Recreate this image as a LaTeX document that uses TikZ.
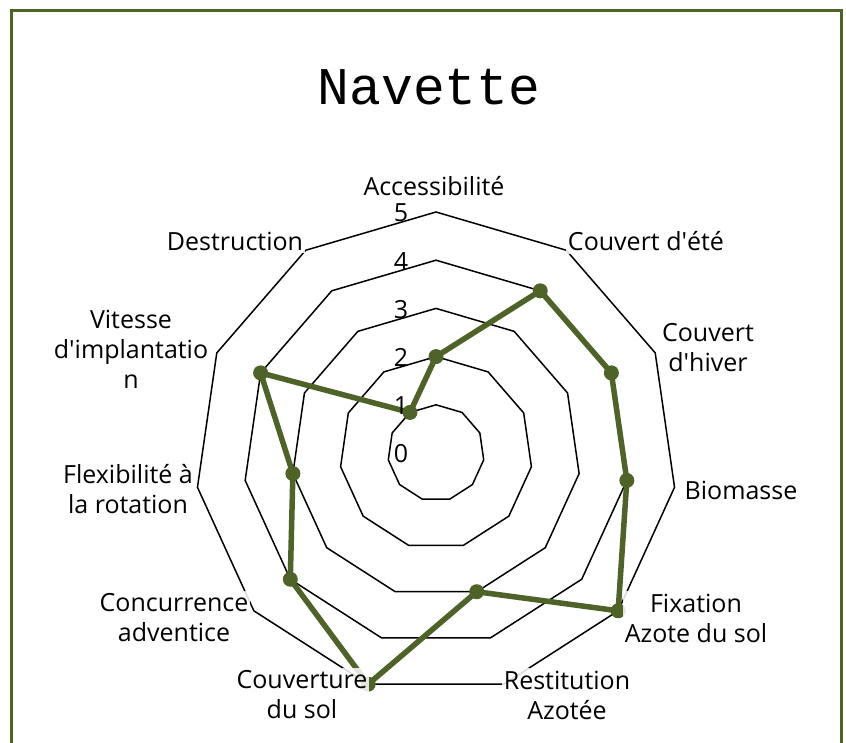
\documentclass[tikz,border=0pt]{standalone}
\usepackage{fontspec}
\setmainfont{Open Sans}
\newfontfamily\titlefont{Liberation Mono}
\definecolor{oliveline}{HTML}{4F6228}
\newcommand{\ap}{\textquotesingle}
\begin{document}
\begin{tikzpicture}[x=1pt,y=1pt,
  lbl/.style={font=\fontsize{25}{30}\selectfont, align=center, fill=white, fill opacity=0.85, text opacity=1, inner xsep=1.5pt, inner ysep=3pt},
  num/.style={font=\fontsize{25}{30}\selectfont, inner sep=0pt},
  gridline/.style={black, line width=1.5, line join=miter},
  dataline/.style={oliveline, line width=5.5, line join=round},
  marker/.style={oliveline}]
\useasboundingbox (0,0) rectangle (846,-743);
\fill[white] (0,0) rectangle (846,-743);
\begin{scope}
\clip (0,0) rectangle (846,-743);
\draw[oliveline, line width=3] (11.5,-760) -- (11.5,-10.5) -- (841.5,-10.5) -- (841.5,-760);
\end{scope}
\node[font=\titlefont\fontsize{53}{60}\selectfont, inner sep=0pt] (title) at (429,-87) {Navette};
\begin{scope}[shift={(436,-453)}]
  \foreach \k in {1,...,5}
    \draw[gridline] (90:{\k*48.2}) \foreach \i in {1,...,10} { -- ({90-\i*360/11}:{\k*48.2}) } -- cycle;
  \foreach \v [count=\i from 0] in {2,4,4,4,5,3,5,4,3,4,1}
    \coordinate (p\i) at ({90-\i*360/11}:{\v*48.2});
\end{scope}
\draw[dataline] (p0) -- (p1) -- (p2) -- (p3) -- (p4) -- (p5) -- (p6) -- (p7) -- (p8) -- (p9) -- (p10) -- cycle;
\foreach \i in {0,...,10} \fill[marker] (p\i) circle (7.5);
\foreach \k in {0,...,5} \node[num] (n\k) at (401,{-454+48.2*\k}) {\k};
\node[lbl] (l0) at (434,-186) {Accessibilité};
\node[lbl] (l1) at (646,-241) {Couvert d\ap été};
\node[lbl] (l2) at (708,-348) {Couvert\\d\ap hiver};
\node[lbl] (l3) at (741,-490) {Biomasse};
\node[lbl] (l4) at (696,-618) {Fixation\\Azote du sol};
\node[lbl] (l5) at (567,-695) {Restitution\\Azotée};
\node[lbl] (l6) at (302,-695) {Couverture\\du sol};
\node[lbl] (l7) at (174,-618) {Concurrence\\adventice};
\node[lbl] (l8) at (128,-489) {Flexibilité à\\la rotation};
\node[lbl] (l9) at (131,-349) {Vitesse\\d\ap implantatio\\n};
\node[lbl] (l10) at (235,-241) {Destruction};
\end{tikzpicture}
\end{document}
